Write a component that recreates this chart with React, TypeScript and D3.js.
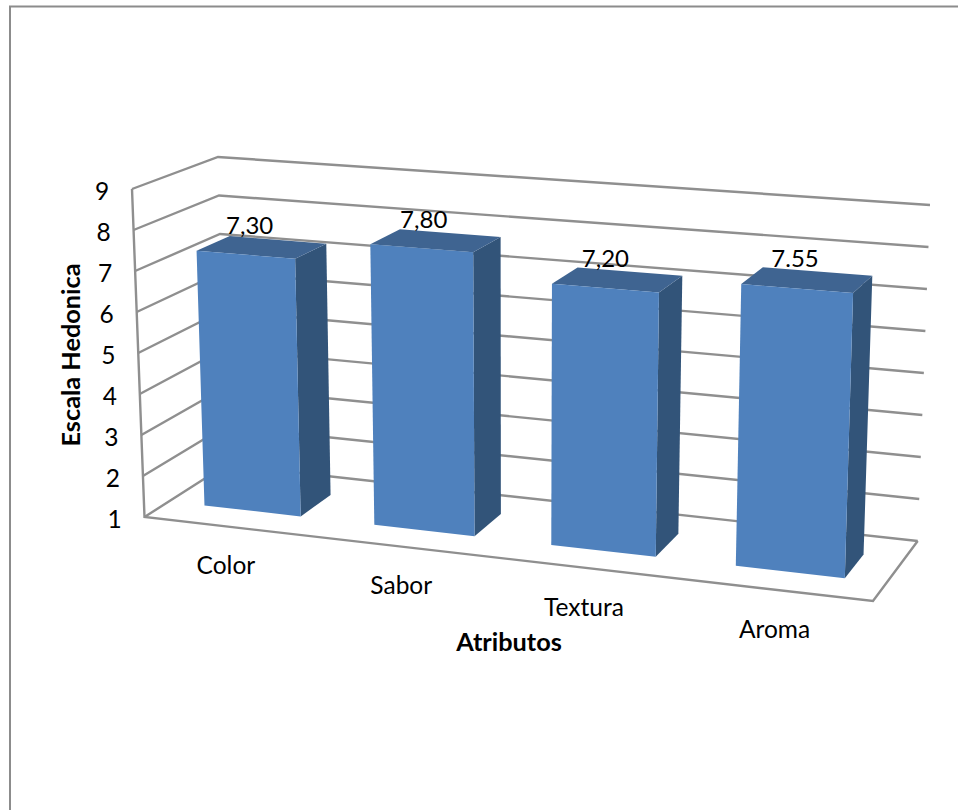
import React from "react";
import * as d3 from "d3";

// Mean hedonic score per attribute
const categories = ["Color", "Sabor", "Textura", "Aroma"];
const values = [7.3, 7.8, 7.2, 7.55];
const valueLabels = ["7,30", "7,80", "7,20", "7.55"];
const ticks = [1, 2, 3, 4, 5, 6, 7, 8, 9];

type Pt = [number, number];

// Bilinear map from the unit square onto a quadrilateral (00, 10, 11, 01).
function quadMap(p00: Pt, p10: Pt, p11: Pt, p01: Pt) {
  return (u: number, w: number): Pt => {
    const fx = p00[0] + (p10[0] - p00[0]) * u;
    const fy = p00[1] + (p10[1] - p00[1]) * u;
    const bx = p01[0] + (p11[0] - p01[0]) * u;
    const by = p01[1] + (p11[1] - p01[1]) * u;
    return [fx + (bx - fx) * w, fy + (by - fy) * w];
  };
}

// Chart box: floor plane and the plane at the top of the value axis.
const floor = quadMap([144.5, 517], [873, 601], [917.7, 541], [226, 465]);
const ceiling = quadMap([132, 189], [884, 245], [930, 205], [218, 157]);

// Foreshortening along the category axis: the far end of the axis is nearer the viewer.
const FORESHORTEN = 0.92;
const warp = (u: number) => (FORESHORTEN * u) / (1 + (FORESHORTEN - 1) * u);

const heightScale = d3.scaleLinear().domain([1, 9]).range([0, 1]);
const bandScale = d3
  .scaleBand<string>()
  .domain(categories)
  .range([0, 1])
  .paddingInner(0.4286)
  .paddingOuter(0.2143);

const DEPTH_FRONT = 0.3;
const DEPTH_BACK = 0.7;

function project(u: number, w: number, v: number): Pt {
  const t = heightScale(v);
  const uu = warp(u);
  const a = floor(uu, w);
  const b = ceiling(uu, w);
  return [a[0] + (b[0] - a[0]) * t, a[1] + (b[1] - a[1]) * t];
}

const lineGen = d3.line<Pt>();
const closed = (pts: Pt[]) => lineGen(pts) + "Z";

const FONT = "Lato, 'Noto Sans', sans-serif";
const GRID = "#8f8f8f";

function Bar({ name, value }: { name: string; value: number }) {
  const u0 = bandScale(name)!;
  const u1 = u0 + bandScale.bandwidth();
  const base = heightScale.domain()[0];
  const fbl = project(u0, DEPTH_FRONT, base);
  const fbr = project(u1, DEPTH_FRONT, base);
  const bbr = project(u1, DEPTH_BACK, base);
  const ftl = project(u0, DEPTH_FRONT, value);
  const ftr = project(u1, DEPTH_FRONT, value);
  const btr = project(u1, DEPTH_BACK, value);
  const btl = project(u0, DEPTH_BACK, value);
  return (
    <g>
      <path d={closed([fbr, bbr, btr, ftr])} fill="#325479" />
      <path d={closed([ftl, ftr, btr, btl])} fill="#3f6491" />
      <path d={closed([fbl, fbr, ftr, ftl])} fill="#4f81bd" />
    </g>
  );
}

export default function App() {
  const base = ticks[0];
  const top = ticks[ticks.length - 1];
  return (
    <svg
      width={958}
      height={810}
      style={{ position: "absolute", left: 0, top: 0, background: "#fff" }}
    >
      {/* outer chart frame, open on the right and bottom */}
      <path d="M10,810V6.5H958" fill="none" stroke="#8c8c8c" strokeWidth={2} />

      {/* side wall and back wall gridlines */}
      {ticks.map((t) => (
        <path
          key={t}
          d={lineGen([project(0, 0, t), project(0, 1, t), project(1, 1, t)])!}
          fill="none"
          stroke={GRID}
          strokeWidth={2.4}
        />
      ))}
      {/* value axis and the open edges of the floor */}
      <path
        d={lineGen([project(0, 0, top), project(0, 0, base), project(1, 0, base), project(1, 1, base)])!}
        fill="none"
        stroke={GRID}
        strokeWidth={2.4}
      />

      {categories.map((c, i) => (
        <Bar key={c} name={c} value={values[i]} />
      ))}

      <g fontFamily={FONT} fill="#000">
        {ticks.map((t) => {
          const [x, y] = project(0, 0, t);
          return (
            <text key={t} x={x - 30} y={y + 11} fontSize={24.5} textAnchor="middle">
              {t}
            </text>
          );
        })}

        {categories.map((c) => {
          const mid = bandScale(c)! + bandScale.bandwidth() / 2;
          const [x, y] = project(mid, -0.1, base);
          return (
            <text key={c} x={x + 4.5} y={y + 42} fontSize={24.5} textAnchor="middle">
              {c}
            </text>
          );
        })}

        {categories.map((c, i) => {
          const mid = bandScale(c)! + bandScale.bandwidth() / 2;
          const [x, y] = project(mid, 0.5, values[i]);
          return (
            <text key={c} x={x - 12} y={y - 13} fontSize={24} textAnchor="middle">
              {valueLabels[i]}
            </text>
          );
        })}

        <text x={509} y={651} fontSize={25.3} fontWeight={700} textAnchor="middle">
          Atributos
        </text>
        <text
          transform="translate(80,355) rotate(-90)"
          fontSize={25.3}
          fontWeight={700}
          textAnchor="middle"
        >
          Escala Hedonica
        </text>
      </g>
    </svg>
  );
}
